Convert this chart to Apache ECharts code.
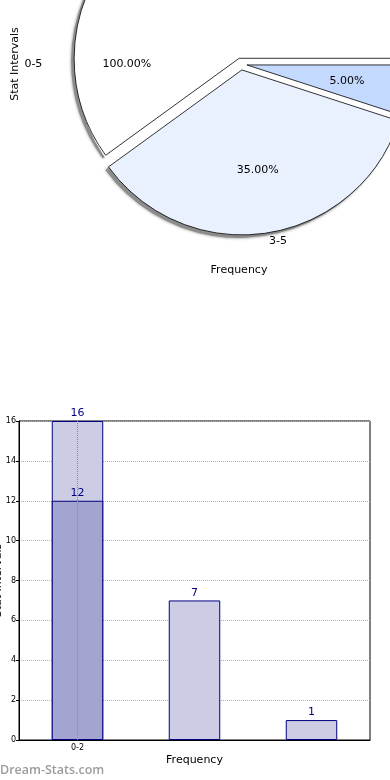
<!DOCTYPE html>
<html><head><meta charset="utf-8">
<script src="https://cdn.jsdelivr.net/npm/echarts@6/dist/echarts.min.js"></script>
<style>html,body{margin:0;padding:0;background:#fff}#c{width:390px;height:780px}</style>
</head><body><div id="c"></div>
<script>
// ---- Pie data ----
const pieNames = ['0-5', '3-5', ''];
const pieValues = [60, 35, 5];
const piePctLabels = ['100.00%', '35.00%', '5.00%'];
const pieColors = ['#ffffff', '#eaf1fe', '#c4d9fe'];
const pieTitleX = 'Frequency';
const pieTitleY = 'Stat Intervals';

// ---- Bar data ----
const barCategories = ['0-2', '', ''];
const barTotals = [16, 7, 1];
const barLower = [12, null, null];
const yMin = 0, yMax = 16, yStep = 2;
const barTitleX = 'Frequency';
const barTitleY = 'Stat Intervals';
const watermark = 'Dream-Stats.com';

const FONT = 'DejaVu Sans';
const C = [241, 64];
const R = 165;
const OFF = 6;
const SH = 3;

const chart = echarts.init(document.getElementById('c'), null, {renderer: 'canvas'});

const transparentStyle = {color: 'transparent', borderWidth: 0, shadowBlur: 0, shadowColor: 'transparent'};
const pieBase = {type: 'pie', startAngle: 0, clockwise: false, avoidLabelOverlap: false, silent: true,
  emphasis: {disabled: true}, labelLine: {show: false}};

const option = {
  animation: false,
  textStyle: {fontFamily: FONT},
  graphic: [
    {type: 'text', x: 15, y: 64, rotation: Math.PI / 2,
      style: {text: pieTitleY, align: 'center', verticalAlign: 'middle', fontSize: 11, fontFamily: FONT, fill: '#000'}},
    {type: 'text', style: {text: pieTitleX, x: 239, y: 270, align: 'center', verticalAlign: 'middle', fontSize: 11, fontFamily: FONT, fill: '#000'}},
    {type: 'text', style: {text: watermark, x: 0, y: 770, align: 'left', verticalAlign: 'middle', fontSize: 12.5, fontWeight: 600, fontFamily: 'Open Sans', fill: '#9c9c9c'}}
  ],
  grid: {left: 19, right: 20, top: 421, bottom: 40, show: true, borderColor: '#000', borderWidth: 1,
    containLabel: false, outerBoundsMode: 'none'},
  xAxis: {
    type: 'category', data: barCategories,
    axisLine: {lineStyle: {color: '#000'}},
    axisTick: {show: false},
    axisLabel: {fontSize: 8, color: '#000', margin: 4, interval: 0},
    splitLine: {show: false},
    name: barTitleX, nameLocation: 'middle', nameGap: 15, nameMoveOverlap: false,
    nameTextStyle: {fontSize: 11, color: '#000'}
  },
  yAxis: {
    type: 'value', min: yMin, max: yMax, interval: yStep,
    axisLine: {show: true, lineStyle: {color: '#000'}},
    axisTick: {show: true, length: 3, lineStyle: {color: '#000'}},
    axisLabel: {fontSize: 8, color: '#000', margin: 3},
    splitLine: {show: true, lineStyle: {type: 'dotted', color: '#b0b0b0', width: 1}},
    name: barTitleY, nameLocation: 'middle', nameGap: 15, nameMoveOverlap: false,
    nameTextStyle: {fontSize: 11, color: '#000'}
  },
  series: [
    // drop shadow of the exploded slices
    Object.assign({}, pieBase, {
      center: [C[0] - SH, C[1] + SH], radius: R, selectedMode: 'multiple', selectedOffset: OFF, z: 0,
      data: pieValues.map((v, i) => ({name: pieNames[i], value: v, selected: true})),
      itemStyle: {color: '#8c8c8c', borderWidth: 0, shadowBlur: 3, shadowColor: 'rgba(0,0,0,0.5)'},
      select: {itemStyle: {color: '#8c8c8c', borderWidth: 0}},
      label: {show: false}
    }),
    // white cover that keeps the gaps between slices clean
    Object.assign({}, pieBase, {
      center: C, radius: R, z: 0.5,
      data: [{name: 'cover', value: 1}],
      itemStyle: {color: '#ffffff', borderWidth: 0},
      label: {show: false}
    }),
    // visible pie slices
    Object.assign({}, pieBase, {
      center: C, radius: R, selectedMode: 'multiple', selectedOffset: OFF, z: 1,
      data: pieValues.map((v, i) => ({name: pieNames[i], value: v, selected: true, itemStyle: {color: pieColors[i]}})),
      itemStyle: {borderColor: '#000', borderWidth: 0.8},
      select: {itemStyle: {borderColor: '#000', borderWidth: 0.8}},
      label: {show: false}
    }),
    // percentage labels for the two smaller slices
    Object.assign({}, pieBase, {
      center: C, radius: R * 1.19, selectedMode: 'multiple', selectedOffset: OFF, z: 3,
      data: pieValues.map((v, i) => ({name: pieNames[i], value: v, selected: true,
        label: {show: i > 0, formatter: piePctLabels[i]}})),
      itemStyle: transparentStyle, select: {itemStyle: transparentStyle},
      label: {position: 'inside', fontSize: 11, color: '#000', fontFamily: FONT}
    }),
    // name + percentage label of the first slice, placed on the left
    Object.assign({}, pieBase, {
      center: C, radius: R * 1.82, z: 3,
      data: [{name: pieNames[0], value: pieValues[0]}],
      itemStyle: transparentStyle,
      label: {position: 'inside', fontSize: 11, color: '#000', fontFamily: FONT,
        formatter: '{n|' + pieNames[0] + '}{p|' + piePctLabels[0] + '}',
        rich: {n: {width: 78, align: 'left', fontSize: 11, fontFamily: FONT}, p: {fontSize: 11, fontFamily: FONT}}}
    }),
    // outer name labels for the other slices
    Object.assign({}, pieBase, {
      center: C, radius: R, selectedMode: 'multiple', selectedOffset: OFF, z: 3,
      data: pieValues.map((v, i) => ({name: pieNames[i], value: v, selected: true,
        label: {show: i === 1}})),
      itemStyle: transparentStyle, select: {itemStyle: transparentStyle},
      label: {position: 'outside', fontSize: 11, color: '#000', fontFamily: FONT, formatter: '{b}', distanceToLabelLine: 0, alignTo: 'none'},
      labelLine: {show: false, length: 8, length2: 0}
    }),
    // bars
    {
      type: 'bar', data: barTotals, barWidth: '44%', z: 2,
      itemStyle: {color: '#cccde4', borderColor: '#000080', borderWidth: 1},
      label: {show: true, position: 'top', distance: 2, color: '#000080', fontSize: 11, fontFamily: FONT},
      emphasis: {disabled: true}
    },
    {
      type: 'bar', data: barLower, barWidth: '44%', barGap: '-100%', z: 3,
      itemStyle: {color: '#a3a5d0', borderColor: '#000080', borderWidth: 1},
      label: {show: true, position: 'top', distance: 2, color: '#000080', fontSize: 11, fontFamily: FONT},
      emphasis: {disabled: true},
      markLine: {
        silent: true, symbol: ['none', 'none'], label: {show: false},
        lineStyle: {type: 'dotted', color: '#888', width: 1},
        data: [{xAxis: 0}]
      }
    }
  ]
};
chart.setOption(option);
</script>
</body></html>
